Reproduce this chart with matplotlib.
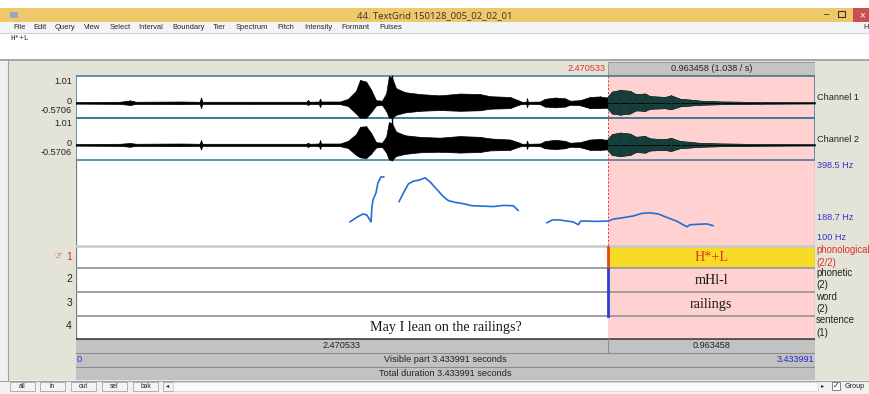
import matplotlib
matplotlib.use("Agg")
import matplotlib.pyplot as plt
from matplotlib.patches import Rectangle

W, H = 869, 394
plt.rcParams['font.family'] = ['Liberation Sans', 'DejaVu Sans']

# ---------------- data ----------------
total_dur = 3.433991
sel_start = 2.470533
sel_end = 3.433991
cursor_t = 1.468
amp_max, amp_min = 1.01, -0.5706
pitch_lo, pitch_hi, pitch_mid = 100, 398.5, 188.7

# waveform envelope (time in s, upper / lower amplitude)
wave_t = [0.000, 0.204, 0.251, 0.279, 0.483, 0.575, 0.581, 0.587, 0.809, 1.070,
          1.078, 1.086, 1.129, 1.134, 1.139, 1.227, 1.264, 1.301, 1.320, 1.348,
          1.371, 1.394, 1.422, 1.441, 1.454, 1.468, 1.487, 1.529, 1.598, 1.691,
          1.784, 1.877, 1.924, 2.017, 2.054, 2.072, 2.092, 2.096, 2.100, 2.156,
          2.179, 2.226, 2.272, 2.296, 2.342, 2.388, 2.435, 2.467, 2.491, 2.528,
          2.574, 2.602, 2.644, 2.667, 2.737, 2.765, 2.807, 2.853, 2.900, 2.993,
          3.178, 3.434]
ch1_top = [0.03, 0.04, 0.09, 0.04, 0.05, 0.04, 0.20, 0.04, 0.04, 0.04,
           0.10, 0.04, 0.05, 0.16, 0.05, 0.05, 0.15, 0.45, 0.86, 0.80,
           0.50, 0.10, 0.08, 0.35, 1.00, 0.95, 0.55, 0.40, 0.33, 0.28,
           0.35, 0.33, 0.25, 0.22, 0.10, 0.04, 0.04, 0.17, 0.04, 0.05,
           0.15, 0.20, 0.17, 0.08, 0.10, 0.22, 0.24, 0.20, 0.42, 0.48,
           0.45, 0.32, 0.35, 0.25, 0.22, 0.28, 0.15, 0.12, 0.08, 0.05,
           0.03, 0.02]
ch1_bot = [-0.03, -0.04, -0.08, -0.04, -0.05, -0.04, -0.19, -0.04, -0.04, -0.04,
           -0.08, -0.04, -0.05, -0.15, -0.05, -0.05, -0.12, -0.40, -0.56, -0.56,
           -0.35, -0.10, -0.08, -0.30, -0.55, -0.57, -0.45, -0.36, -0.30, -0.27,
           -0.30, -0.28, -0.22, -0.20, -0.08, -0.04, -0.04, -0.15, -0.04, -0.05,
           -0.14, -0.17, -0.14, -0.07, -0.09, -0.20, -0.20, -0.18, -0.40, -0.44,
           -0.40, -0.28, -0.30, -0.22, -0.20, -0.24, -0.13, -0.10, -0.07, -0.05,
           -0.03, -0.02]
ch2_top = [0.03, 0.04, 0.07, 0.04, 0.05, 0.04, 0.17, 0.04, 0.04, 0.04,
           0.08, 0.04, 0.05, 0.17, 0.05, 0.05, 0.15, 0.40, 0.68, 0.70,
           0.45, 0.10, 0.08, 0.30, 0.85, 0.81, 0.50, 0.36, 0.30, 0.27,
           0.33, 0.30, 0.24, 0.20, 0.10, 0.04, 0.04, 0.16, 0.04, 0.05,
           0.14, 0.19, 0.15, 0.08, 0.10, 0.20, 0.22, 0.19, 0.40, 0.46,
           0.42, 0.30, 0.33, 0.24, 0.21, 0.26, 0.14, 0.11, 0.07, 0.05,
           0.03, 0.02]
ch2_bot = [-0.03, -0.04, -0.07, -0.04, -0.05, -0.04, -0.17, -0.04, -0.04, -0.04,
           -0.08, -0.04, -0.05, -0.14, -0.05, -0.05, -0.12, -0.38, -0.47, -0.50,
           -0.33, -0.10, -0.08, -0.28, -0.55, -0.57, -0.42, -0.34, -0.28, -0.26,
           -0.29, -0.27, -0.21, -0.19, -0.08, -0.04, -0.04, -0.14, -0.04, -0.05,
           -0.13, -0.16, -0.13, -0.07, -0.09, -0.19, -0.19, -0.17, -0.38, -0.42,
           -0.38, -0.27, -0.29, -0.21, -0.19, -0.23, -0.12, -0.10, -0.07, -0.05,
           -0.03, -0.02]

# pitch contour (three voiced stretches)
seg1_t = [1.273, 1.306, 1.334, 1.352, 1.371, 1.375, 1.380, 1.394, 1.403, 1.417, 1.431]
seg1_hz = [181, 198, 209, 205, 181, 233, 258, 283, 318, 339, 339]
seg2_t = [1.501, 1.521, 1.544, 1.567, 1.595, 1.622, 1.645, 1.676, 1.707, 1.730,
          1.761, 1.800, 1.839, 1.877, 1.939, 1.986, 2.032, 2.055]
seg2_hz = [252, 282, 314, 324, 328, 336, 322, 296, 270, 256,
           250, 245, 238, 237, 235, 239, 238, 221]
seg3_t = [2.187, 2.215, 2.249, 2.280, 2.311, 2.334, 2.345, 2.373, 2.420, 2.473,
          2.497, 2.543, 2.590, 2.629, 2.667, 2.706, 2.745, 2.791, 2.838, 2.853,
          2.900, 2.931, 2.961]
seg3_hz = [178, 188, 188, 184, 181, 171, 184, 184, 183, 184,
           191, 196, 202, 211, 213, 209, 197, 184, 164, 171,
           173, 174, 168]

# text grid
tier_names = ["phonological", "phonetic", "word", "sentence"]
tier_counts = ["(2/2)", "(2)", "(2)", "(1)"]
tier_bounds = [[0, sel_start, total_dur], [0, sel_start, total_dur],
               [0, sel_start, total_dur], [0, total_dur]]
tier_texts = [["", "H*+L"], ["", "mHl-l"], ["", "railings"],
              ["May I lean on the railings?"]]

menu_items = ["File", "Edit", "Query", "View", "Select", "Interval", "Boundary",
              "Tier", "Spectrum", "Pitch", "Intensity", "Formant", "Pulses"]
menu_x = [13, 33, 55, 84, 110, 138, 172, 213, 236, 277, 304, 341, 379]
buttons = ["all", "in", "out", "sel", "bak"]
button_x = [10, 40, 71, 102, 133]

# ---------------- figure ----------------
fig = plt.figure(figsize=(W / 100, H / 100), dpi=100)
base = fig.add_axes([0, 0, 1, 1])
base.set_xlim(0, W)
base.set_ylim(H, 0)
base.axis('off')


def box(ax, x0, y0, x1, y1, fc, ec='none', lw=0, z=1):
    ax.add_patch(Rectangle((x0, y0), x1 - x0, y1 - y0, facecolor=fc,
                           edgecolor=ec, linewidth=lw, zorder=z))


def px_axes(x0, y0, x1, y1, z):
    a = fig.add_axes([x0 / W, 1 - y1 / H, (x1 - x0) / W, (y1 - y0) / H])
    a.set_zorder(z)
    a.patch.set_visible(False)
    a.axis('off')
    return a


# window chrome
box(base, 0, 0, W, H, 'white')
box(base, 0, 8, W, 22, '#EFC86B')
box(base, 10, 12, 18, 18, '#9AA8B8')
base.text(435, 15.5, "44. TextGrid 150128_005_02_02_01", ha='center', va='center',
          fontsize=6.8, color='#333333', family=['Open Sans', 'DejaVu Sans'])
base.text(827, 14, "\u2013", ha='center', va='center', fontsize=7, color='#333')
box(base, 838, 11, 845, 17, 'none', '#333', 0.8, z=3)
box(base, 853, 8, W, 22, '#C9504F')
base.text(862, 15, "\u00d7", ha='center', va='center', fontsize=7, color='white')
box(base, 0, 22, W, 33, '#F3F4F5')
base.plot([0, W], [33, 33], color='#D4D4D4', lw=0.8)
for name, x in zip(menu_items, menu_x):
    base.text(x, 27.5, name, ha='left', va='center', fontsize=5.4, color='#222222')
base.text(866, 27.5, "H", ha='center', va='center', fontsize=5.4, color='#222222')
base.text(10, 38.5, "H*+L", ha='left', va='center', fontsize=5.5,
          family='Liberation Mono', color='#222222')
box(base, 0, 59, W, 61, '#A8A8A8')
box(base, 0, 61, 8, 380, '#F0F0F0')
box(base, 8, 61, W, 380, '#E3E3D8')
base.plot([8, 8], [61, 380], color='#A0A0A0', lw=0.8)

# bottom button bar
box(base, 0, 380, W, H, '#F2F2F2')
base.plot([0, W], [380.5, 380.5], color='#A0A0A0', lw=0.8)
for name, x in zip(buttons, button_x):
    box(base, x, 381.5, x + 25, 390.5, '#F4F4F4', '#B0B0B0', 0.7, z=2)
    base.text(x + 12.5, 386, name, ha='center', va='center', fontsize=4.8, color='#222')
box(base, 163, 381.5, 173, 390.5, '#F4F4F4', '#B0B0B0', 0.7, z=2)
base.text(168, 386, "\u25c2", ha='center', va='center', fontsize=4.5, color='#222')
box(base, 173, 381.5, 818, 390.5, '#FAFAFA', '#D0D0D0', 0.5, z=2)
base.text(823, 386, "\u25b8", ha='center', va='center', fontsize=4.5, color='#222')
box(base, 832, 382, 840, 390, 'white', '#808080', 0.7, z=2)
base.text(836, 386, "\u2713", ha='center', va='center', fontsize=5.5, color='#222')
base.text(845, 386, "Group", ha='left', va='center', fontsize=5.2, color='#222')

# ---------------- time column (x in seconds, y in pixels) ----------------
col = px_axes(76, 61, 815, 380, 2)
col.set_xlim(0, total_dur)
col.set_ylim(380, 61)

# top info row
col.add_patch(Rectangle((sel_start, 62), sel_end - sel_start, 12.5, facecolor='#C4C4C4',
                        edgecolor='#9A9A9A', lw=0.7))
col.text((sel_start + sel_end) / 2, 68.3, "%.6f (%.3f / s)" % (sel_end - sel_start, 1 / (sel_end - sel_start)),
         ha='center', va='center', fontsize=6.6, color='#222')
col.text(sel_start - 0.008, 68.3, "%.6f" % sel_start, ha='right', va='center',
         fontsize=6.6, color='#E03030')

# panel backgrounds and selection
col.add_patch(Rectangle((0, 75.5), total_dur, 263, facecolor='white', lw=0))
col.axvspan(sel_start, sel_end, ymin=(380 - 338) / 319, ymax=(380 - 75.5) / 319,
            color='#FFD1D1', lw=0)
col.add_patch(Rectangle((sel_start, 246), sel_end - sel_start, 22, facecolor='#F7DB27', lw=0))

# channel frames
for y0 in (75.5, 117.5):
    col.add_patch(Rectangle((0, y0), total_dur, 42, facecolor='none',
                            edgecolor='#3B7696', lw=1.1, zorder=4))
col.plot([0, 0], [160, 338], color='#7A7A7A', lw=0.9)
col.plot([total_dur, total_dur], [160, 338], color='#7A7A7A', lw=0.9)
col.plot([0, total_dur], [245.5, 245.5], color='#CACACA', lw=1.8)
for y in (268, 292, 316):
    col.plot([0, total_dur], [y, y], color='#9A9A9A', lw=1.3)
col.plot([0, total_dur], [338.5, 338.5], color='#303030', lw=1.1)

# selection / cursor markers
col.plot([sel_start, sel_start], [76, 245], color='#E03A3A', lw=0.7, ls=(0, (2, 2)))
col.plot([cursor_t, cursor_t], [76, 160], color='black', lw=1.0, zorder=5)

# tiers
tier_tops = [246, 268, 292, 316]
bound_colors = ['#E4471C', '#2E3FD6', '#2E3FD6', None]
for i in range(4):
    y0, y1 = tier_tops[i], tier_tops[i] + (22 if i == 0 else 24) - (2 if i == 3 else 0)
    bounds = tier_bounds[i]
    for j, label in enumerate(tier_texts[i]):
        col.text((bounds[j] + bounds[j + 1]) / 2, (y0 + y1) / 2 + 0.5, label,
                 ha='center', va='center', fontsize=10.2,
                 family=['Liberation Serif', 'DejaVu Serif'],
                 color='#E03A1A' if i == 0 else '#1A1A1A')
    for b in bounds[1:-1]:
        col.plot([b, b], [y0 + 0.5, y1 - 0.5], color=bound_colors[i], lw=2.0, zorder=5)

# bottom time rows
col.add_patch(Rectangle((0, 339), total_dur, 41, facecolor='#C2C2C2', lw=0))
for y in (352.5, 366.5, 380):
    col.plot([0, total_dur], [y, y], color='#8C8C8C', lw=0.8)
col.plot([sel_start, sel_start], [339, 352.5], color='#8C8C8C', lw=0.8)
col.text(sel_start / 2, 345.7, "%.6f" % sel_start, ha='center', va='center', fontsize=6.6, color='#222')
col.text((sel_start + sel_end) / 2, 345.7, "%.6f" % (sel_end - sel_start), ha='center', va='center',
         fontsize=6.6, color='#222')
col.text(0.005, 359.5, "0", ha='left', va='center', fontsize=6.6, color='#2828D0')
col.text(total_dur / 2, 359.5, "Visible part %.6f seconds" % total_dur, ha='center', va='center',
         fontsize=6.6, color='#222')
col.text(total_dur - 0.005, 359.5, "%.6f" % total_dur, ha='right', va='center', fontsize=6.6,
         color='#2828D0')
col.text(total_dur / 2, 373.3, "Total duration %.6f seconds" % total_dur, ha='center',
         va='center', fontsize=6.6, color='#222')

# ---------------- waveforms ----------------
for (y0, y1), top, bot in (((76, 118), ch1_top, ch1_bot), ((118, 160), ch2_top, ch2_bot)):
    ax = px_axes(76, y0, 815, y1, 3)
    ax.set_xlim(0, total_dur)
    ax.set_ylim(amp_min, amp_max)
    ax.fill_between(wave_t, top, bot, color='black', lw=0.5)
    ax.vlines(wave_t, bot, top, color='black', lw=0.8)
    ax.axhline(0, color='black', lw=0.6)
    clip = Rectangle((sel_start, amp_min), sel_end - sel_start, amp_max - amp_min,
                     transform=ax.transData)
    sel_fill = ax.fill_between(wave_t, top, bot, color='#173F3C', lw=0.5)
    sel_fill.set_clip_path(clip)
    sel_line = ax.vlines(wave_t, bot, top, color='#173F3C', lw=0.8)
    sel_line.set_clip_path(clip)
    base.text(72, y0 + 5.5, "%.2f" % amp_max, ha='right', va='center', fontsize=6.6, color='#222')
    base.text(72, y0 + 25.5, "0", ha='right', va='center', fontsize=6.6, color='#222')
    base.text(72, y0 + 34.5, "%.4f" % amp_min, ha='right', va='center', fontsize=6.6, color='#222')

# ---------------- pitch ----------------
pax = px_axes(76, 160, 815, 245, 3)
pax.set_xlim(0, total_dur)
pax.set_ylim(pitch_lo, pitch_hi)
for st, sf in ((seg1_t, seg1_hz), (seg2_t, seg2_hz), (seg3_t, seg3_hz)):
    pax.plot(st, sf, color='#1F6FD6', lw=1.2, solid_capstyle='round')

# ---------------- right-hand labels ----------------
base.text(817, 97, "Channel 1", ha='left', va='center', fontsize=6.6, color='#222')
base.text(817, 139, "Channel 2", ha='left', va='center', fontsize=6.6, color='#222')
base.text(817, 165.5, "%.1f Hz" % pitch_hi, ha='left', va='center', fontsize=6.6, color='#3535C8')
base.text(817, 217.5, "%.1f Hz" % pitch_mid, ha='left', va='center', fontsize=6.6, color='#3535C8')
base.text(817, 237.5, "%d Hz" % pitch_lo, ha='left', va='center', fontsize=6.6, color='#3535C8')
name_y = [250, 273, 296.5, 320]
for i in range(4):
    c = '#E03030' if i == 0 else '#222'
    base.text(816, name_y[i], tier_names[i], ha='left', va='center', fontsize=6.9, color=c)
    base.text(816, name_y[i] + 12.5, tier_counts[i], ha='left', va='center', fontsize=6.9, color=c)

# tier numbers on the left
for i, y in enumerate([256.5, 279.5, 303, 326]):
    base.text(72, y, str(i + 1), ha='right', va='center', fontsize=7.5,
              color='#E03030' if i == 0 else '#222')
base.text(58, 256.5, "\u261e", ha='center', va='center', fontsize=6, color='#E03030',
          family='DejaVu Sans')

fig.savefig("out.png", dpi=100)
